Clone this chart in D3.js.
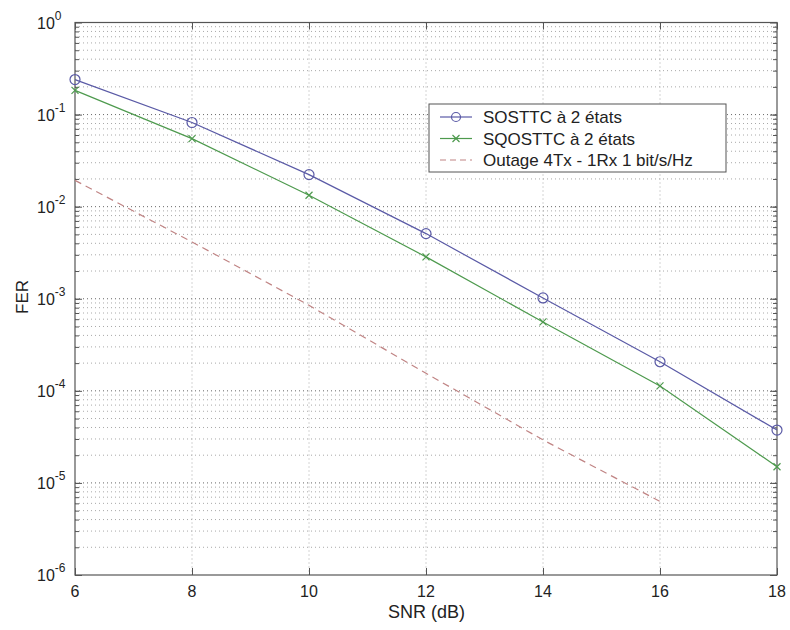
<!DOCTYPE html>
<html>
<head>
<meta charset="utf-8">
<script src="https://cdn.jsdelivr.net/npm/d3@7"></script>
<style>
  html, body { margin: 0; padding: 0; background: #fff; }
  svg { display: block; font-family: Arial, "Liberation Sans", Helvetica, sans-serif; }
</style>
</head>
<body>
<svg id="chart" width="790" height="630"></svg>
<script>
// SNR points (dB) and frame error rates for each scheme
const snr = [6, 8, 10, 12, 14, 16, 18];
const sosttc = [0.24, 0.082, 0.0223, 0.0051, 0.00102, 0.000207, 0.0000375];
const sqosttc = [0.183, 0.0548, 0.0133, 0.00285, 0.00056, 0.000113, 0.000015];
const outageSnr = [6, 8, 10, 12, 14, 16];
const outage = [0.0193, 0.00414, 0.00085, 0.000155, 0.0000293, 0.0000063];

const xTicks = [6, 8, 10, 12, 14, 16, 18];
const yExponents = [0, -1, -2, -3, -4, -5, -6];

const legendLabels = ["SOSTTC à 2 états", "SQOSTTC à 2 états", "Outage 4Tx - 1Rx 1 bit/s/Hz"];

const colBlue = "#5a5aa6";
const colGreen = "#4e9a4e";
const colRed = "#c08484";

const svg = d3.select("#chart");
const L = 75, R = 777, T = 22.5, B = 575;

const x = d3.scaleLinear().domain([6, 18]).range([L, R]);
const y = d3.scaleLog().domain([1e-6, 1]).range([B, T]);

// background grid (dotted, one line per minor decade step)
const grid = svg.append("g");
const minorVals = [];
for (let e = -6; e < 0; e++) {
  for (let m = 1; m <= 9; m++) minorVals.push(m * Math.pow(10, e));
}
const innerVals = minorVals.filter(v => v > 1e-6 && v < 1);
const isDecade = d => Math.abs(Math.log10(d) - Math.round(Math.log10(d))) < 1e-9;
grid.selectAll("line.h")
  .data(innerVals)
  .join("line")
  .attr("x1", L).attr("x2", R)
  .attr("y1", d => y(d)).attr("y2", d => y(d))
  .attr("stroke", d => isDecade(d) ? "#666" : "#a8a8a8")
  .attr("stroke-width", 1)
  .attr("stroke-dasharray", "1,3");
grid.selectAll("line.v")
  .data(xTicks.slice(1, -1))
  .join("line")
  .attr("y1", T).attr("y2", B)
  .attr("x1", d => x(d)).attr("x2", d => x(d))
  .attr("stroke", "#a8a8a8")
  .attr("stroke-dasharray", "1,3");

// axes: ticks pointing inward on all four sides
const axisCol = "#555";
const noLabel = () => "";
const yMajorVals = yExponents.map(e => Math.pow(10, e));

function inwardTicks(axisFn, pos, vals, size, vertical) {
  svg.append("g")
    .attr("transform", vertical ? `translate(${pos},0)` : `translate(0,${pos})`)
    .call(axisFn.tickValues(vals).tickSize(size).tickFormat(noLabel))
    .call(g => g.select(".domain").remove())
    .call(g => g.selectAll("line").attr("stroke", axisCol));
}
inwardTicks(d3.axisRight(y), L, innerVals, 4, true);
inwardTicks(d3.axisRight(y), L, yMajorVals, 7, true);
inwardTicks(d3.axisLeft(y), R, innerVals, 4, true);
inwardTicks(d3.axisLeft(y), R, yMajorVals, 7, true);
inwardTicks(d3.axisTop(x), B, xTicks, 7, false);
inwardTicks(d3.axisBottom(x), T, xTicks, 7, false);

// plot frame
svg.append("rect")
  .attr("x", L).attr("y", T).attr("width", R - L).attr("height", B - T)
  .attr("fill", "none").attr("stroke", axisCol).attr("stroke-width", 1.2);

// x tick labels
svg.append("g").selectAll("text")
  .data(xTicks)
  .join("text")
  .attr("x", d => x(d)).attr("y", B + 22)
  .attr("text-anchor", "middle")
  .attr("font-size", 16).attr("fill", "#222")
  .text(d => d);

// y tick labels as powers of ten
const yl = svg.append("g").selectAll("text")
  .data(yExponents)
  .join("text")
  .attr("x", 37).attr("y", d => y(Math.pow(10, d)) + 6)
  .attr("font-size", 16).attr("fill", "#222");
yl.append("tspan").text("10");
yl.append("tspan").attr("dy", -9).attr("font-size", 12).text(d => d);

// axis titles
svg.append("text")
  .attr("x", 426.5).attr("y", 618)
  .attr("text-anchor", "middle").attr("font-size", 18).attr("fill", "#222")
  .text("SNR (dB)");
svg.append("text")
  .attr("transform", "translate(28,297) rotate(-90)")
  .attr("text-anchor", "middle").attr("font-size", 17).attr("fill", "#222")
  .text("FER");

// curves
const line = d3.line().x(d => x(d[0])).y(d => y(d[1]));
const sData = snr.map((s, i) => [s, sosttc[i]]);
const qData = snr.map((s, i) => [s, sqosttc[i]]);
const oData = outageSnr.map((s, i) => [s, outage[i]]);

const plot = svg.append("g");
plot.append("path").datum(oData).attr("d", line)
  .attr("fill", "none").attr("stroke", colRed).attr("stroke-width", 1.2)
  .attr("stroke-dasharray", "7,5");
plot.append("path").datum(qData).attr("d", line)
  .attr("fill", "none").attr("stroke", colGreen).attr("stroke-width", 1.2);
plot.append("path").datum(sData).attr("d", line)
  .attr("fill", "none").attr("stroke", colBlue).attr("stroke-width", 1.2);

// markers
const crossPath = "M-3.5,-3.5L3.5,3.5M-3.5,3.5L3.5,-3.5";
plot.selectAll("circle.m")
  .data(sData).join("circle")
  .attr("cx", d => x(d[0])).attr("cy", d => y(d[1])).attr("r", 5)
  .attr("fill", "none").attr("stroke", colBlue).attr("stroke-width", 1.2);
plot.selectAll("path.x")
  .data(qData).join("path")
  .attr("d", crossPath)
  .attr("transform", d => `translate(${x(d[0])},${y(d[1])})`)
  .attr("stroke", colGreen).attr("stroke-width", 1.2).attr("fill", "none");

// legend
const lg = svg.append("g");
lg.append("rect")
  .attr("x", 429).attr("y", 104).attr("width", 297).attr("height", 68)
  .attr("fill", "#fff").attr("stroke", "#555").attr("stroke-width", 1);
const rowY = [117, 138.5, 160];
const styles = [
  { c: colBlue, dash: null, mark: "o" },
  { c: colGreen, dash: null, mark: "x" },
  { c: colRed, dash: "6,4", mark: null }
];
legendLabels.forEach((lab, i) => {
  const yy = rowY[i];
  lg.append("line").attr("x1", 440).attr("x2", 472).attr("y1", yy).attr("y2", yy)
    .attr("stroke", styles[i].c).attr("stroke-width", 1.2)
    .attr("stroke-dasharray", styles[i].dash);
  if (styles[i].mark === "o") {
    lg.append("circle").attr("cx", 456).attr("cy", yy).attr("r", 4.5)
      .attr("fill", "none").attr("stroke", styles[i].c).attr("stroke-width", 1.2);
  } else if (styles[i].mark === "x") {
    lg.append("path").attr("d", crossPath)
      .attr("transform", `translate(456,${yy})`)
      .attr("stroke", styles[i].c).attr("stroke-width", 1.2);
  }
  lg.append("text").attr("x", 483).attr("y", yy + 6)
    .attr("font-size", 17).attr("fill", "#222").text(lab);
});
</script>
</body>
</html>
